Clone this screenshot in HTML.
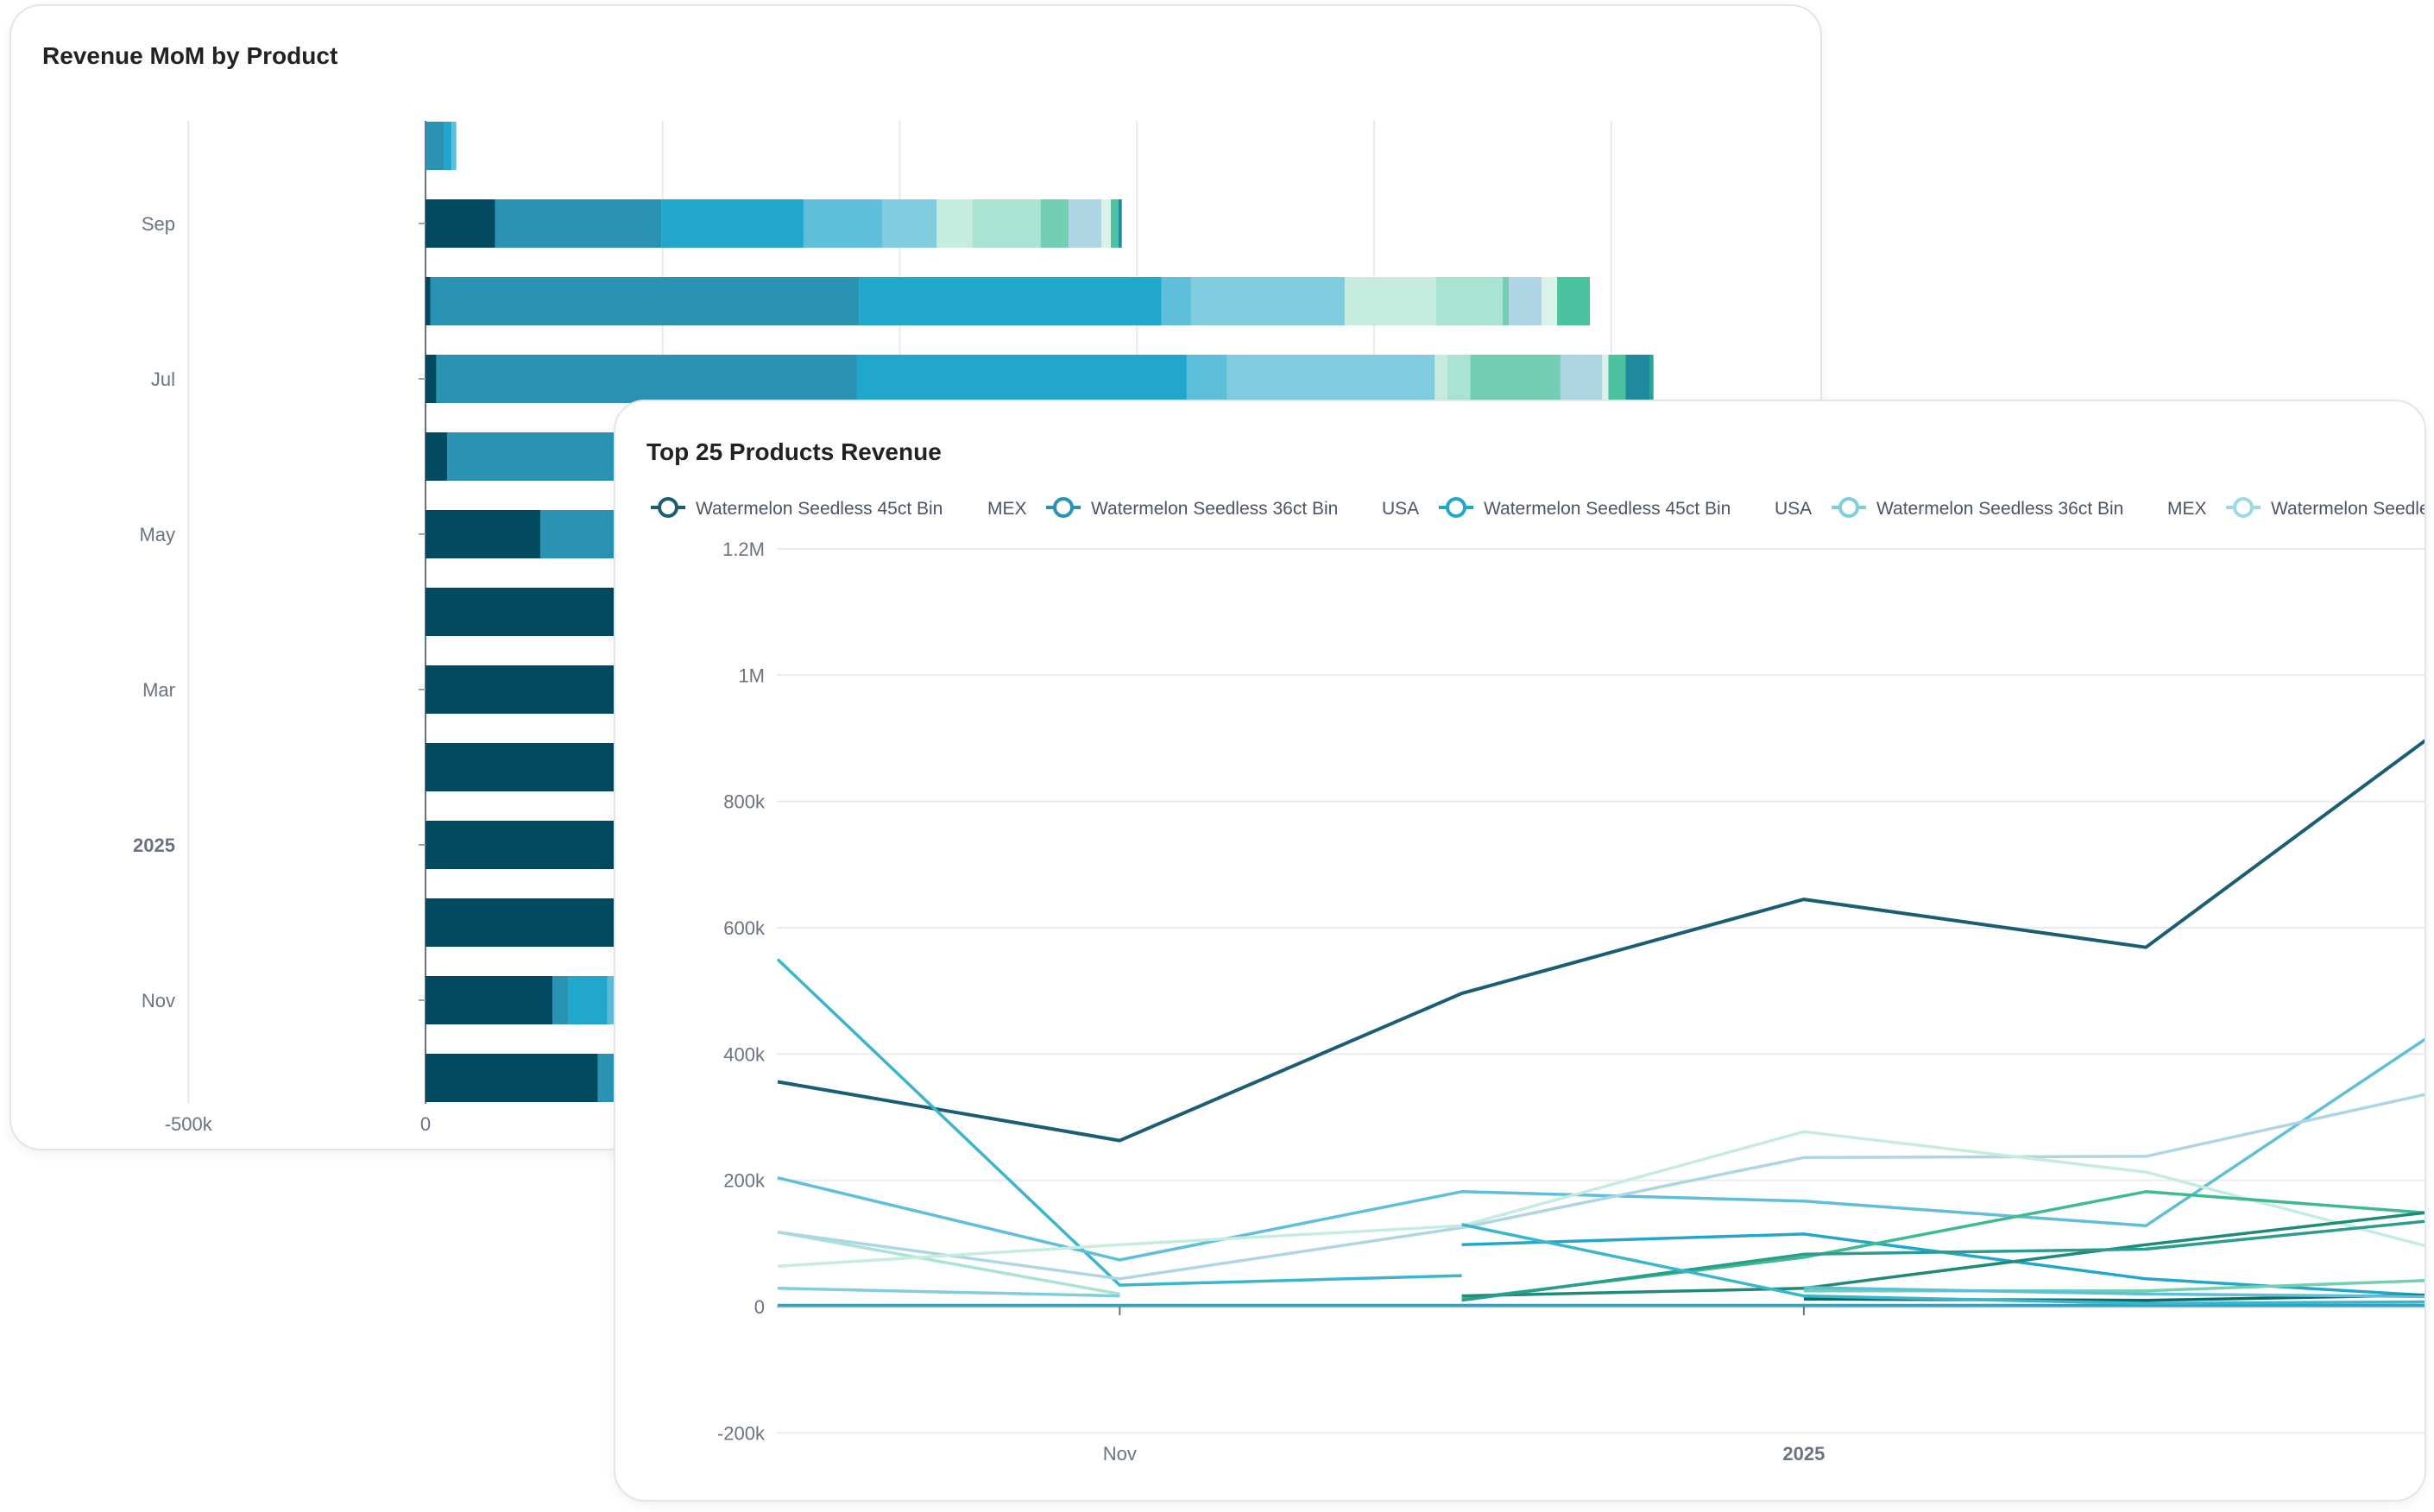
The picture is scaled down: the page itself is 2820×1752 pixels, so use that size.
<!DOCTYPE html>
<html><head><meta charset="utf-8"><style>
html,body{margin:0;padding:0;background:#fff;}
body{width:2820px;height:1752px;position:relative;overflow:hidden;font-family:"Liberation Sans",sans-serif;}
.card{position:absolute;background:#fff;border:2px solid #e3e5ea;border-radius:36px;box-shadow:0 4px 14px rgba(0,0,0,0.06);overflow:hidden;}
.title{position:absolute;font-size:28px;font-weight:bold;color:#222;}
svg text{font-family:"Liberation Sans",sans-serif;}
</style></head><body>
<div class="card" id="back" style="left:11px;top:5px;width:2096px;height:1324px;">
<div class="title" style="left:36px;top:42px;">Revenue MoM by Product</div>
<svg id="barsvg" width="2096" height="1324" style="position:absolute;left:0;top:0"></svg>
</div>
<div class="card" id="front" style="left:711px;top:463px;width:2096px;height:1273px;">
<div class="title" style="left:36px;top:43px;">Top 25 Products Revenue</div>
<svg id="linesvg" width="2096" height="1273" style="position:absolute;left:0;top:0"></svg>
</div>
<script>
const NS="http://www.w3.org/2000/svg";
function mk(p,t,a){const e=document.createElementNS(NS,t);for(const k in a)e.setAttribute(k,a[k]);p.appendChild(e);return e;}
// ---------- Bar chart data (values in k) ----------
const barMonths=["Oct","Sep","Aug","Jul","Jun","May","Apr","Mar","Feb","2025","Dec","Nov","Oct24"];
const barLabels=["","Sep","","Jul","","May","","Mar","","2025","","Nov",""];
const palette=["#024a60","#2a93b4","#22a7cc","#5fbfda","#80cde0","#c6ece0","#a9e3d1","#72cfb3","#aed5e3","#d9f3ea","#4cc3a0","#1f8a9e","#2aa58e"];
const segOct=[0,39,16,10];
const segSep=[147,350,300,167,114,75,144,59,69,20,16,7];
const segAug=[10,905,637,62,324,193,140,13,69,33,69];
const segJul=[23,886,696,85,438,26,49,190,88,13,36,52,7];
const segJun=[46,700,600,90,380,60,150,60,50];
const segMay=[242,500,450,100,300,80,120,50];
const segApr=[900,300,200,100];
const segMar=[850,300,200,100];
const segFeb=[800,250,200,80];
const segJan=[820,250,200,80];
const segDec=[780,250,180,80];
const segNov=[268,33,82,30,150,60];
const segOct24=[363,200,150,80];
const barSegs=[segOct,segSep,segAug,segJul,segJun,segMay,segApr,segMar,segFeb,segJan,segDec,segNov,segOct24];
const barTicks=[-500,0,500,1000,1500,2000,2500];
const barTickLabels=["-500k","0","","","","",""];
(function(){
 const s=document.getElementById("barsvg");
 const ox=-11,oy=-5;
 const xs=v=>491+ox+v*0.5495;
 const rowY=i=>167+oy+i*90;
 const top=138+oy,bot=1277+oy;
 barTicks.forEach((t,i)=>{
  const g=mk(s,"line",{x1:xs(t),x2:xs(t),y1:top,y2:bot,stroke:t===0?"#6b7280":"#e6e8f2","stroke-width":2});
  
  
  if(barTickLabels[i]){const tx=mk(s,"text",{x:xs(t),y:1308+oy,"text-anchor":"middle","font-size":22,fill:"#6b7280"});tx.textContent=barTickLabels[i];
  
  }
 });
 barSegs.forEach((segs,i)=>{
  let acc=0;const cy=rowY(i);
  segs.forEach((v,j)=>{
   if(v<=0){return;}
   const r=mk(s,"rect",{x:xs(acc),y:cy-28,width:v*0.5495,height:56,fill:palette[j%palette.length]});
   
   
   acc+=v;
  });
  if(barLabels[i]){
   const tk=mk(s,"line",{x1:xs(0)-8,x2:xs(0),y1:cy,y2:cy,stroke:"#9ca3af","stroke-width":2});
   
   
   const t=mk(s,"text",{x:201+ox,y:cy+8,"text-anchor":"end","font-size":22,fill:"#6b7280","font-weight":barLabels[i]==="2025"?"bold":"normal"});
   t.textContent=barLabels[i];
   
   
  }
 });
})();
// ---------- Line chart data (values in k) ----------
const lineMonths=["Oct","Nov","Dec","Jan","Feb","Mar"];
const yTicks=[1200,1000,800,600,400,200,0,-200];
const yTickLabels=["1.2M","1M","800k","600k","400k","200k","0","-200k"];
const s1=[356,263,496,645,569,970];
const s2=[550,34,49,null,null,null];
const s3=[204,74,182,167,128,490];
const s4=[118,20,null,null,null,null];
const s5=[118,44,125,236,238,358];
const s6=[64,98,128,277,213,70];
const s7=[29,17,null,null,null,null];
const s8=[2,2,2,2,2,2];
const s9=[null,null,98,115,44,12];
const s10=[null,null,12,78,182,141];
const s11=[null,null,17,29,98,160];
const s12=[null,null,10,83,91,145];
const s13=[null,null,null,12,10,20];
const s14=[null,null,null,25,25,45];
const s15=[null,null,130,17,5,8];
const s16=[null,null,null,30,20,15];
const lineSeries=[s1,s2,s3,s4,s5,s6,s7,s8,s9,s10,s11,s12,s13,s14,s15,s16];
const lineColors=["#1b5e74","#3ab5cf","#5fbfda","#a9e3d1","#aed5e3","#c6ece0","#80cde0","#22a7cc","#22a7cc","#3dbb8f","#1f8a78","#2a9d8f","#0d6b66","#72cfb3","#3ab5cf","#5fbfda"];
const legendNames=["Watermelon Seedless 45ct Bin","Watermelon Seedless 36ct Bin","Watermelon Seedless 45ct Bin","Watermelon Seedless 36ct Bin","Watermelon Seedless 45ct Bin"];
const legendRegions=["MEX","USA","USA","MEX",""];
const legendColors=["#1b5e74","#2a93b4","#22a7cc","#80cde0","#9fd8e6"];
(function(){
 const s=document.getElementById("linesvg");
 const ox=-711,oy=-463;
 const ys=v=>1512+oy-v*0.7317;
 const xs=i=>899+ox+i*396.3;
 yTicks.forEach((t,i)=>{
  const g=mk(s,"line",{x1:898+ox,x2:2120,y1:ys(t),y2:ys(t),stroke:t===0?"#c4c7cf":"#e8ebf3","stroke-width":t===0?3:2});
  
  
  const tx=mk(s,"text",{x:884+ox,y:ys(t)+8,"text-anchor":"end","font-size":22,fill:"#6b7280"});
  tx.textContent=yTickLabels[i];
  
  
 });
 [[1,"Nov",false],[3,"2025",true]].forEach(([i,l,b])=>{
  const tk=mk(s,"line",{x1:xs(i),x2:xs(i),y1:ys(0),y2:ys(0)+10,stroke:"#6b7280","stroke-width":2});
  
  
  const t=mk(s,"text",{x:xs(i),y:1690+oy,"text-anchor":"middle","font-size":22,fill:"#6b7280","font-weight":b?"bold":"normal"});
  t.textContent=l;
  
  
 });
 lineSeries.forEach((ser,k)=>{
  let d="",pen=false;
  ser.forEach((v,i)=>{if(v===null){pen=false;return;}d+=(pen?"L":"M")+xs(i).toFixed(1)+","+ys(v).toFixed(1)+" ";pen=true;});
  const p=mk(s,"path",{d:d,fill:"none",stroke:lineColors[k],"stroke-width":k===0?4:3.5,"stroke-linejoin":"round"});
  
  
 });
 const lx=[752,1210,1665,2120,2577], rx=[1142,1599,2054,2509,0];
 legendNames.forEach((n,i)=>{
  const y=586+oy;
  const g=mk(s,"g",{});
  
  
  mk(g,"line",{x1:lx[i]+ox,x2:lx[i]+ox+40,y1:y,y2:y,stroke:legendColors[i],"stroke-width":4});
  mk(g,"circle",{cx:lx[i]+ox+20,cy:y,r:10,fill:"#fff",stroke:legendColors[i],"stroke-width":4});
  const t=mk(g,"text",{x:lx[i]+ox+52,y:y+8,"font-size":21,fill:"#4b5563"});t.textContent=n;
  if(legendRegions[i]){const r=mk(g,"text",{x:rx[i]+ox,y:y+8,"font-size":21,fill:"#4b5563"});r.textContent=legendRegions[i];}
 });
})();
</script>
</body></html>
